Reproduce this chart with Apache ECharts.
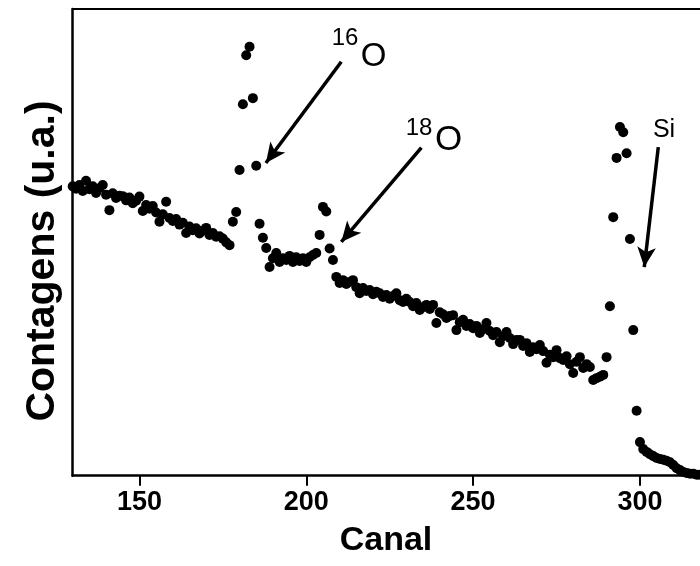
<!DOCTYPE html>
<html>
<head>
<meta charset="utf-8">
<script src="https://cdn.jsdelivr.net/npm/echarts@6/dist/echarts.min.js"></script>
<style>html,body{margin:0;padding:0;background:#fff}#c{width:700px;height:566px}</style>
</head>
<body>
<div id="c"></div>
<script>
// Detector channel of the first point; one point per channel
const firstChannel = 130;
// Counts (arbitrary units), channels 130..318
const counts = [
  62.0, 61.5, 62.3, 61.0, 63.2, 61.4, 62.0, 60.6, 61.6, 62.3,
  60.2, 56.9, 60.5, 59.5, 60.0, 59.9, 59.0, 59.6, 58.4, 58.9,
  59.8, 56.7, 58.0, 57.2, 57.8, 56.4, 54.4, 56.0, 58.7, 55.2,
  54.6, 55.0, 53.8, 54.2, 52.0, 53.4, 52.6, 53.0, 51.9, 52.5,
  53.1, 51.6, 52.0, 51.2, 51.3, 50.8, 50.0, 49.4,
  54.4, 56.5, 65.5, 79.6, 90.1, 91.9, 80.9, 66.4, 54.0, 51.0,
  48.8, 44.7, 46.6, 47.7, 45.8, 46.6, 46.2, 47.1, 45.8, 46.8,
  46.0, 46.6, 45.8, 46.8, 47.3, 47.7, 51.6, 57.6, 56.6, 48.7,
  46.2, 42.6, 41.3,
  41.9, 41.1, 41.5, 41.9, 40.4, 39.1, 40.2, 39.6, 39.8, 38.9,
  39.4, 39.1, 38.3, 38.7, 37.9, 38.5, 39.1, 37.6, 37.2, 37.9,
  37.2, 36.3, 37.0, 35.5, 36.1, 36.6, 35.7, 36.6, 32.7, 35.0,
  34.6, 33.8, 34.2, 34.4, 31.2, 32.9, 33.4, 32.1, 32.5, 31.6,
  32.1, 30.6, 31.4, 32.7, 31.0, 30.1, 30.8, 28.6, 29.9, 30.8,
  29.5, 28.2, 29.1, 29.1, 27.8, 28.4, 26.5, 27.5, 27.1, 28.0,
  26.7, 24.2, 25.9, 25.4, 26.9, 25.2, 24.8, 25.6, 23.9, 22.0,
  24.4, 25.4, 23.1, 23.9, 23.3, 20.5, 20.9, 21.2, 21.6,
  25.4, 36.3, 55.4, 68.1, 74.7, 73.6, 69.1, 50.7, 31.2, 13.9,
  7.2, 5.7, 5.1, 4.6, 4.2, 3.8, 3.6, 3.4, 3.2, 2.9,
  2.3, 1.6, 1.2, 0.8, 0.6, 0.4, 0.4, 0.2, 0.2
];
const xTicks = [150, 200, 250, 300];
const xLabel = 'Canal';
const yLabel = 'Contagens (u.a.)';
// Arrow annotations: [start, tip] in data coordinates
const arrows = [
  [[210.5, 88.7], [187.9, 67.0]],
  [[234.5, 70.3], [210.5, 50.1]],
  [[305.5, 70.4], [301.3, 44.7]]
];

const points = counts.map((v, i) => [firstChannel + i, v]);
const font = 'Liberation Sans, Arial, sans-serif';

const chart = echarts.init(document.getElementById('c'), null, {renderer: 'canvas'});
chart.setOption({
  animation: false,
  backgroundColor: '#fff',
  grid: {left: 72.7, right: 0, top: 9, bottom: 90.3, containLabel: false},
  xAxis: [{
    type: 'value', min: 130, max: 318,
    axisLine: {show: true, onZero: false, lineStyle: {color: '#000', width: 2.5}},
    axisTick: {show: true, inside: false, length: 10, lineStyle: {color: '#000', width: 2}, customValues: xTicks},
    axisLabel: {show: true, customValues: xTicks, margin: 13, color: '#000', fontSize: 27, fontWeight: 'bold', fontFamily: font},
    splitLine: {show: false}
  }, {
    type: 'value', min: 130, max: 318, position: 'top',
    axisLine: {show: true, onZero: false, lineStyle: {color: '#000', width: 2}},
    axisTick: {show: false}, axisLabel: {show: false}, splitLine: {show: false}
  }],
  yAxis: {
    type: 'value', min: 0, max: 100,
    axisLine: {show: true, onZero: false, lineStyle: {color: '#000', width: 2.5}},
    axisTick: {show: false}, axisLabel: {show: false}, splitLine: {show: false}
  },
  series: [{
    type: 'scatter',
    data: points,
    symbol: 'circle',
    symbolSize: 10,
    itemStyle: {color: '#000', opacity: 1},
    markLine: {
      silent: true,
      animation: false,
      symbol: ['none', 'arrow'],
      symbolSize: [14, 20],
      label: {show: false},
      lineStyle: {color: '#000', width: 3.5, type: 'solid'},
      emphasis: {disabled: true},
      data: arrows.map(a => [{coord: a[0]}, {coord: a[1]}])
    }
  }],
  graphic: [
    {type: 'text', x: 386, y: 541, style: {text: xLabel, font: 'bold 34px ' + font, fill: '#000', textAlign: 'center', textVerticalAlign: 'middle'}},
    {type: 'text', x: 43, y: 261, rotation: Math.PI / 2, style: {text: yLabel, font: 'bold 41px ' + font, fill: '#000', textAlign: 'center', textVerticalAlign: 'middle'}},
    {type: 'text', x: 345, y: 38.5, style: {text: '16', font: '24px ' + font, fill: '#000', textAlign: 'center', textVerticalAlign: 'middle'}},
    {type: 'text', x: 373.5, y: 56.5, style: {text: 'O', font: '33px ' + font, fill: '#000', textAlign: 'center', textVerticalAlign: 'middle'}},
    {type: 'text', x: 419, y: 128.5, style: {text: '18', font: '24px ' + font, fill: '#000', textAlign: 'center', textVerticalAlign: 'middle'}},
    {type: 'text', x: 448.5, y: 140.5, style: {text: 'O', font: '35px ' + font, fill: '#000', textAlign: 'center', textVerticalAlign: 'middle'}},
    {type: 'text', x: 664, y: 130, style: {text: 'Si', font: '25px ' + font, fill: '#000', textAlign: 'center', textVerticalAlign: 'middle'}}
  ]
});
</script>
</body>
</html>
